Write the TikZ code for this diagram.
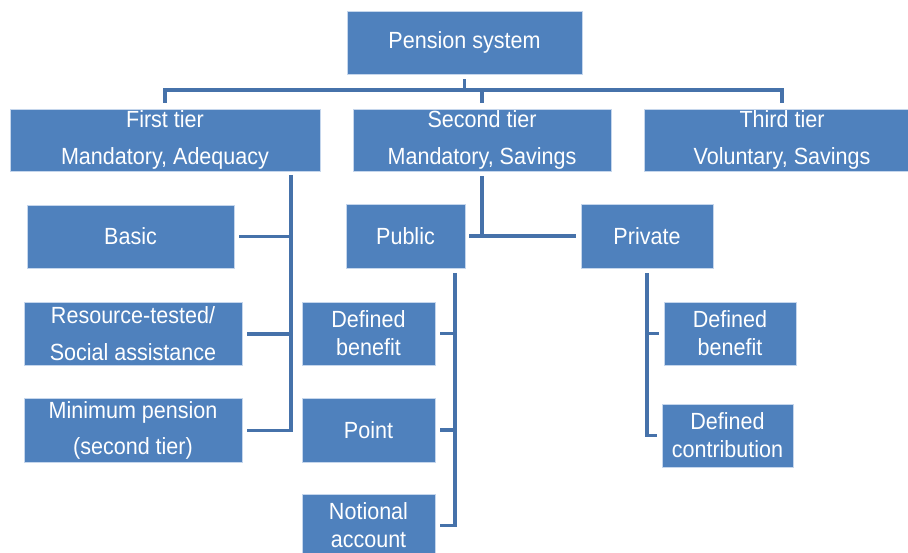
\documentclass[tikz,border=0pt]{standalone}
\usepackage{fontspec}
\setmainfont{Liberation Sans}[FakeStretch=0.92]
\usepackage{xcolor}
\usepackage{tikz}

\definecolor{boxblue}{HTML}{4F81BD}
\definecolor{boxedge}{HTML}{C5D6EC}
\definecolor{linkblue}{HTML}{4672AA}

\begin{document}
\begin{tikzpicture}[x=1bp, y=-1bp,
        box/.style={fill=boxblue, draw=boxedge, line width=0.8bp, text=white, inner sep=0pt,
            align=center, minimum height=63bp, font=\fontsize{23.5}{37}\selectfont},
        narrow/.style={box, font=\fontsize{23.5}{28}\selectfont},
        link/.style={draw=linkblue, line width=3.5bp}]
        \useasboundingbox (0,0) rectangle (908,553);
        \clip (0,0) rectangle (908,553);

        % root
        \node[box, minimum width=235bp] (pension) at (464.5,42.5) {Pension system};

        % tiers
        \begin{scope}[name prefix=tier-]
            \node[box, minimum width=310bp, minimum height=62bp] (1) at (165,140) {First tier\\Mandatory, Adequacy};
            \node[box, minimum width=258bp, minimum height=62bp] (2) at (482,140) {Second tier\\Mandatory, Savings};
            \node[box, minimum width=276bp, minimum height=62bp] (3) at (782,140) {Third tier\\Voluntary, Savings};
        \end{scope}

        \coordinate (bus) at (0,90);
        \draw[link, shorten <=5bp] (pension.south) -- (pension.south |- bus);
        \draw[link, shorten <=6bp, shorten >=6bp] (tier-1.north) -- (tier-1.north |- bus)
            -- (tier-3.north |- bus) -- (tier-3.north);
        \draw[link, shorten >=6bp] (tier-2.north |- bus) -- (tier-2.north);

        % first tier
        \begin{scope}[name prefix=first-]
            \node[box, minimum width=207bp] (1) at (130.5,236.5) {Basic};
            \node[box, minimum width=218bp] (2) at (133,334) {Resource-tested/\\Social assistance};
            \node[box, minimum width=218bp, minimum height=64bp] (3) at (133,430.5) {Minimum pension\\(second tier)};
        \end{scope}

        \coordinate (spine1) at (291,175);
        \draw[link, shorten >=5bp] (spine1) |- (first-3.east);
        \foreach \k in {1, 2} {
            \draw[link, shorten <=5bp] (first-\k.east) -- (first-\k.east -| spine1);
        }

        % second tier
        \node[box, minimum width=119bp, minimum height=64bp] (public) at (405.5,236) {Public};
        \node[box, minimum width=132bp, minimum height=64bp] (private) at (647,236) {Private};
        \draw[link, shorten <=5bp] (tier-2.south) -- (tier-2.south |- public.east);
        \draw[link, shorten <=4bp, shorten >=5bp] (public.east) -- (private.west);

        % public schemes
        \begin{scope}[name prefix=public-]
            \node[narrow, minimum width=133bp] (1) at (368.5,333.5) {Defined\\benefit};
            \node[narrow, minimum width=133bp, minimum height=64bp] (2) at (368.5,430) {Point};
            \node[narrow, minimum width=133bp] (3) at (368.5,525.5) {Notional\\account};
        \end{scope}

        \coordinate (spine2) at (455,273);
        \draw[link, shorten >=5bp] (spine2) |- (public-3.east);
        \foreach \k in {1, 2} {
            \draw[link, shorten <=5bp] (public-\k.east) -- (public-\k.east -| spine2);
        }

        % private schemes
        \begin{scope}[name prefix=private-]
            \node[narrow, minimum width=132bp] (1) at (730,333.5) {Defined\\benefit};
            \node[narrow, minimum width=131bp] (2) at (727.5,435.5) {Defined\\contribution};
        \end{scope}

        \draw[link, shorten <=5bp, shorten >=5bp] (private.south) |- (private-2.west);
        \draw[link, shorten >=5bp] (private.south |- private-1.west) -- (private-1.west);
    \end{tikzpicture}
\end{document}
